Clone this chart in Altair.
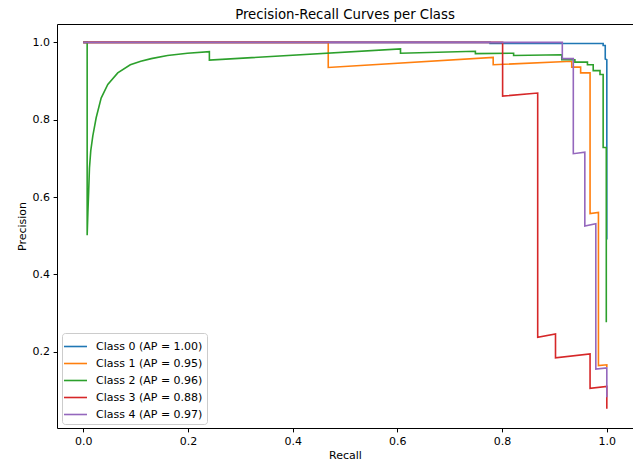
import altair as alt
import pandas as pd

labels = ["Class 0 (AP = 1.00)", "Class 1 (AP = 0.95)", "Class 2 (AP = 0.96)",
          "Class 3 (AP = 0.88)", "Class 4 (AP = 0.97)"]
colors = ["#1f77b4", "#ff7f0e", "#2ca02c", "#d62728", "#9467bd"]

c0_recall = [0.0, 0.777, 0.777, 0.993, 0.993, 0.997, 0.997, 1.0, 1.0]
c0_precision = [1.0, 1.0, 0.997, 0.997, 0.992, 0.992, 0.957, 0.955, 0.49]

c1_recall = [0.0, 0.468, 0.468, 0.783, 0.783, 0.933, 0.933, 0.950, 0.950, 0.968,
             0.968, 0.984, 0.984, 1.0, 1.0]
c1_precision = [1.0, 1.0, 0.935, 0.961, 0.942, 0.951, 0.936, 0.936, 0.921, 0.921,
                0.557, 0.560, 0.164, 0.166, 0.16]

c2_recall = [0.0, 0.0076, 0.0076, 0.009, 0.0105, 0.012, 0.0145, 0.0184, 0.0248,
             0.0343, 0.047, 0.066, 0.09, 0.11, 0.13, 0.161, 0.199, 0.241, 0.241,
             0.606, 0.606, 0.749, 0.749, 0.822, 0.822, 0.914, 0.914, 0.939, 0.939,
             0.963, 0.963, 0.974, 0.974, 0.987, 0.987, 0.993, 0.993, 0.999, 0.999]
c2_precision = [1.0, 1.0, 0.501, 0.56, 0.615, 0.675, 0.72, 0.758, 0.805,
                0.856, 0.891, 0.921, 0.942, 0.951, 0.958, 0.966, 0.972, 0.976, 0.954,
                0.983, 0.972, 0.977, 0.971, 0.972, 0.966, 0.968, 0.955, 0.955, 0.949,
                0.949, 0.942, 0.942, 0.927, 0.927, 0.917, 0.917, 0.728, 0.728, 0.276]

c3_recall = [0.0, 0.801, 0.801, 0.868, 0.868, 0.902, 0.902, 0.968, 0.968, 1.0, 1.0]
c3_precision = [1.0, 1.0, 0.861, 0.869, 0.237, 0.246, 0.184, 0.194, 0.105, 0.110, 0.052]

c4_recall = [0.0, 0.915, 0.915, 0.936, 0.936, 0.958, 0.958, 0.979, 0.979, 1.0, 1.0]
c4_precision = [1.0, 1.0, 0.958, 0.958, 0.712, 0.716, 0.525, 0.531, 0.155, 0.158, 0.082]

recalls = [c0_recall, c1_recall, c2_recall, c3_recall, c4_recall]
precisions = [c0_precision, c1_precision, c2_precision, c3_precision, c4_precision]

rows = []
for lab, rec, prec in zip(labels, recalls, precisions):
    for i, (r, p) in enumerate(zip(rec, prec)):
        rows.append({"label": lab, "recall": r, "precision": p, "idx": i})
df = pd.DataFrame(rows)

FONT = "DejaVu Sans"
ticks = [0.0, 0.2, 0.4, 0.6, 0.8, 1.0]
FS = 11

axis_common = dict(values=ticks, format=".1f", grid=False, domain=False,
                   tickSize=3.9, tickColor="black", tickWidth=1,
                   labelColor="black", labelFontSize=FS, labelFont=FONT,
                   labelPadding=3.5, titleFont=FONT, titleFontSize=FS,
                   titleFontWeight="normal", titleColor="black")

chart = alt.Chart(df).mark_line(strokeWidth=1.6, clip=True).encode(
    x=alt.X("recall:Q",
            scale=alt.Scale(domain=[-0.05, 1.05], nice=False, zero=False),
            axis=alt.Axis(title="Recall", titlePadding=3, **axis_common)),
    y=alt.Y("precision:Q",
            scale=alt.Scale(domain=[0.0025, 1.0475], nice=False, zero=False),
            axis=alt.Axis(title="Precision", titlePadding=5, **axis_common)),
    color=alt.Color("label:N",
                    scale=alt.Scale(domain=labels, range=colors),
                    legend=alt.Legend(title=None, orient="none", legendX=5, legendY=309,
                                      symbolType="M-1.35,0H1.35", symbolSize=289,
                                      symbolStrokeWidth=1.6, labelFontSize=FS,
                                      labelFont=FONT, labelColor="black",
                                      padding=4, strokeColor="#cccccc",
                                      cornerRadius=3, fillColor="white",
                                      rowPadding=2, labelOffset=11, labelLimit=300)),
    order="idx:Q",
).properties(
    width=576, height=404,
    title=alt.TitleParams("Precision-Recall Curves per Class", font=FONT, fontSize=13.3,
                          fontWeight="normal", color="black", anchor="middle", offset=3),
    padding={"left": 49, "top": 16, "right": 0, "bottom": 36},
    autosize=alt.AutoSizeParams(type="none"),
).configure_view(stroke="black", strokeWidth=1)

chart.save("out.html", embed_options={"renderer": "svg", "actions": False})
